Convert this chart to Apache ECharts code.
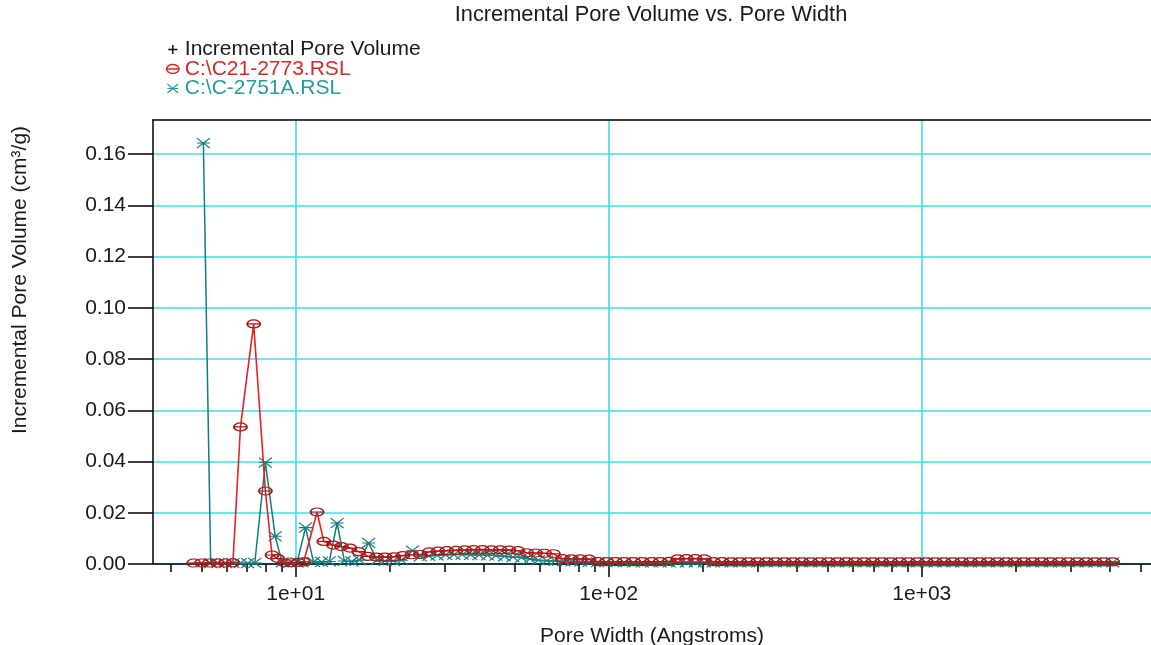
<!DOCTYPE html>
<html><head><meta charset="utf-8">
<script src="https://cdn.jsdelivr.net/npm/echarts@6/dist/echarts.min.js"></script>
<style>html,body{margin:0;padding:0;background:#fff}#c{width:1151px;height:645px}</style>
</head><body><div id="c"></div>
<script>
// ---- tick values / labels ----
const yTicks = [0, 0.02, 0.04, 0.06, 0.08, 0.10, 0.12, 0.14, 0.16];
const xMajorTicks = [10, 100, 1000];
const xMajorLabels = ['1e+01', '1e+02', '1e+03'];
const xMinorTicks = [4, 5, 6, 7, 8, 9, 20, 30, 40, 50, 60, 70, 80, 90, 200, 300, 400, 500, 600, 700, 800, 900, 2000, 3000, 4000, 5000];

// ---- series names ----
const seriesNames = ['Incremental Pore Volume', 'C:\\C21-2773.RSL', 'C:\\C-2751A.RSL'];

// ---- Incremental Pore Volume (no visible points) ----
const ipvWidths = [];
const ipvValues = [];

// ---- C:\C21-2773.RSL (pore width in Angstroms, incremental volume cm3/g) ----
const redWidths = [4.72, 5.0, 5.3, 5.62, 5.95, 6.3, 6.66, 7.34, 8.0, 8.4, 8.75, 9.2, 9.7, 10.2, 10.6,
  11.7, 12.3, 13.2, 14.0, 14.9, 15.9, 17.0, 18.1, 19.3, 20.6, 22.0, 23.5, 25.0, 26.7, 28.5, 30.4,
  32.5, 34.7, 37.0, 39.5, 42.2, 45.0, 48.0, 51.3, 54.7, 58.4, 62.4, 66.6, 71.1, 75.9, 81.0, 86.5,
  92.3, 98.6];
const redValues = [0.0004, 0.0004, 0.0004, 0.0004, 0.0004, 0.0005, 0.0535, 0.0937, 0.0285, 0.0035, 0.0022, 0.0005, 0.0005, 0.0006, 0.0008,
  0.0203, 0.0088, 0.0074, 0.0068, 0.0062, 0.0048, 0.0030, 0.0027, 0.0027, 0.0028, 0.0033, 0.0036, 0.0037, 0.0047, 0.0050, 0.0052,
  0.0053, 0.0055, 0.0056, 0.0056, 0.0055, 0.0055, 0.0054, 0.0052, 0.0044, 0.0043, 0.0042, 0.0040, 0.0021, 0.0020, 0.0020, 0.0019,
  0.0009, 0.0009];

// ---- C:\C-2751A.RSL ----
const tealWidths = [5.07, 5.35, 5.65, 5.97, 6.3, 6.65, 7.02, 7.4, 8.0, 8.6, 9.05, 9.55, 10.1, 10.75, 11.4,
  12.1, 12.8, 13.56, 14.3, 15.1, 16.0, 17.1, 18.2, 19.3, 20.5, 21.8, 23.6, 25.0, 26.6, 28.3, 30.1,
  32.0, 34.0, 36.2, 38.5, 41.0, 43.6, 46.4, 49.4, 52.6, 56.0, 59.6, 63.4, 67.5, 71.8, 76.4, 81.3,
  86.5, 92.1, 98.0];
const tealValues = [0.1643, 0.0003, 0.0003, 0.0003, 0.0003, 0.0003, 0.0003, 0.0004, 0.0396, 0.0108, 0.0006, 0.0005, 0.0006, 0.0142, 0.0008,
  0.0008, 0.0010, 0.0160, 0.0012, 0.0010, 0.0015, 0.0082, 0.0015, 0.0012, 0.0012, 0.0015, 0.0052, 0.0030, 0.0032, 0.0034, 0.0036,
  0.0037, 0.0037, 0.0036, 0.0035, 0.0034, 0.0033, 0.0030, 0.0027, 0.0025, 0.0020, 0.0015, 0.0013, 0.0012, 0.0011, 0.0010, 0.0009,
  0.0008, 0.0007, 0.0007];

// ---- tail of both distributions (pore widths above 100 A) ----
const tailWidths = [105, 112, 120, 128, 137, 146, 156, 166, 177, 189, 202, 216, 230, 246, 262, 280, 299, 319, 341, 364,
  388, 414, 442, 472, 504, 538, 574, 613, 654, 698, 745, 796, 849, 906, 968, 1033, 1103, 1177, 1257, 1342,
  1432, 1529, 1632, 1742, 1860, 1985, 2119, 2262, 2415, 2578, 2752, 2938, 3136, 3348, 3574, 3815, 4073];
const redTail = [0.0009, 0.0009, 0.0009, 0.0009, 0.0009, 0.0009, 0.0010, 0.0020, 0.0021, 0.0021, 0.0020, 0.0009, 0.0009, 0.0008, 0.0008, 0.0008, 0.0008, 0.0008, 0.0008, 0.0008,
  0.0008, 0.0008, 0.0008, 0.0008, 0.0008, 0.0008, 0.0008, 0.0008, 0.0008, 0.0008, 0.0008, 0.0008, 0.0008, 0.0008, 0.0008, 0.0008, 0.0008, 0.0008, 0.0008, 0.0008,
  0.0008, 0.0008, 0.0008, 0.0008, 0.0008, 0.0008, 0.0008, 0.0008, 0.0008, 0.0008, 0.0008, 0.0008, 0.0008, 0.0008, 0.0008, 0.0008, 0.0008];
const tealTail = [0.0007, 0.0007, 0.0006, 0.0006, 0.0006, 0.0006, 0.0006, 0.0006, 0.0006, 0.0006, 0.0006, 0.0006, 0.0006, 0.0006, 0.0006, 0.0006, 0.0006, 0.0006, 0.0006, 0.0006,
  0.0006, 0.0006, 0.0006, 0.0006, 0.0006, 0.0006, 0.0006, 0.0006, 0.0006, 0.0006, 0.0006, 0.0006, 0.0006, 0.0006, 0.0006, 0.0006, 0.0006, 0.0006, 0.0006, 0.0006,
  0.0006, 0.0006, 0.0006, 0.0006, 0.0006, 0.0006, 0.0006, 0.0006, 0.0006, 0.0006, 0.0006, 0.0006, 0.0006, 0.0006, 0.0006, 0.0006, 0.0006];

function pairs(xs, ys) { return xs.map((x, i) => [x, ys[i]]); }
const ipvData = pairs(ipvWidths, ipvValues);
const redData = pairs(redWidths, redValues).concat(pairs(tailWidths, redTail));
const tealData = pairs(tealWidths, tealValues).concat(pairs(tailWidths, tealTail));

const FONT = "'Liberation Sans', Arial, sans-serif";
const FS = 21;
const TXT = '#1a1a1a';
const GRIDC = '#3fdde6';
const RED = '#e32222', RED_M = '#a81a1a';
const TEAL = '#137c7c', TEAL_M = '#177f7f';
const plusPath = 'path://M6,0L6,12M0,6L12,6';
const ovalPath = 'path://M0,5A7,5,0,1,1,14,5A7,5,0,1,1,0,5ZM0,5L14,5';
const crossPath = 'path://M0,0L12,10M0,10L12,0M0,5L12,5';

const grid = { left: 153, top: 120, right: 0, bottom: 81, containLabel: false, outerBoundsMode: 'none' };
const chart = echarts.init(document.getElementById('c'));
chart.setOption({
  animation: false,
  backgroundColor: '#fff',
  textStyle: { fontFamily: FONT },
  title: {
    text: 'Incremental Pore Volume vs. Pore Width', left: 651, top: 4, padding: 0, textAlign: 'center',
    textStyle: { fontFamily: FONT, fontSize: 21.8, fontWeight: 'normal', color: TXT }
  },
  legend: {
    orient: 'vertical', left: 159, top: 34, itemGap: -1.5, itemWidth: 14, itemHeight: 9, selectedMode: false,
    textStyle: { fontFamily: FONT, fontSize: FS },
    data: [
      { name: seriesNames[0], icon: plusPath, itemStyle: { color: 'none', borderColor: '#000', borderWidth: 1.4 }, textStyle: { color: TXT } },
      { name: seriesNames[1], icon: ovalPath, itemStyle: { color: 'none', borderColor: '#d02828', borderWidth: 1.4 }, textStyle: { color: '#d02a2a' } },
      { name: seriesNames[2], icon: crossPath, itemStyle: { color: '#2a9a9a', borderColor: '#2a9a9a', borderWidth: 1.2 }, textStyle: { color: '#2a9a9a' } }
    ]
  },
  grid: [Object.assign({}, grid), Object.assign({}, grid)],
  xAxis: [
    {
      gridIndex: 0, type: 'log', logBase: 10, min: 3.5, max: 5400, position: 'bottom',
      name: 'Pore Width (Angstroms)', nameLocation: 'middle', nameGap: 62,
      nameTextStyle: { fontFamily: FONT, fontSize: FS, color: TXT },
      axisLine: { show: true, onZero: false, lineStyle: { color: '#000', width: 1.5 } },
      axisTick: { show: true, customValues: xMajorTicks, length: 13, lineStyle: { color: '#000', width: 1.5 } },
      axisLabel: { show: true, customValues: xMajorTicks, margin: 20, fontFamily: FONT, fontSize: FS, color: TXT,
        formatter: v => xMajorLabels[xMajorTicks.indexOf(Math.round(v))] || '' },
      splitLine: { show: true, lineStyle: { color: GRIDC, width: 1.6 } },
      minorTick: { show: false }, minorSplitLine: { show: false }
    },
    {
      gridIndex: 0, type: 'log', logBase: 10, min: 3.5, max: 5400, position: 'top',
      axisLine: { show: true, onZero: false, lineStyle: { color: '#000', width: 1.5 } },
      axisTick: { show: false }, axisLabel: { show: false }, splitLine: { show: false }
    },
    {
      gridIndex: 1, type: 'log', logBase: 10, min: 3.5, max: 5400, position: 'bottom',
      axisLine: { show: false, onZero: false },
      axisTick: { show: true, customValues: xMinorTicks, length: 8, lineStyle: { color: '#000', width: 1.5 } },
      axisLabel: { show: false }, splitLine: { show: false }
    }
  ],
  yAxis: [
    {
      gridIndex: 0, type: 'value', min: 0, max: 0.1733,
      name: 'Incremental Pore Volume (cm³/g)', nameLocation: 'middle', nameGap: 122,
      nameTextStyle: { fontFamily: FONT, fontSize: FS, color: TXT, padding: [0, 0, 0, 124] },
      axisLine: { show: true, onZero: false, lineStyle: { color: '#000', width: 1.5 } },
      axisTick: { show: true, customValues: yTicks, length: 25, lineStyle: { color: '#000', width: 1.5 } },
      axisLabel: { show: true, customValues: yTicks, margin: 27, fontFamily: FONT, fontSize: FS, color: TXT,
        formatter: v => v.toFixed(2) },
      splitLine: { show: true, lineStyle: { color: GRIDC, width: 1.6 } }
    },
    { gridIndex: 1, type: 'value', min: 0, max: 1, show: false }
  ],
  series: [
    {
      name: seriesNames[0], type: 'line', xAxisIndex: 0, yAxisIndex: 0, data: ipvData,
      symbol: plusPath, symbolSize: [12, 12],
      itemStyle: { color: '#000', borderColor: '#000', borderWidth: 1.2 },
      lineStyle: { color: '#000', width: 1.5 }
    },
    {
      name: seriesNames[2], type: 'line', xAxisIndex: 0, yAxisIndex: 0, data: tealData,
      symbol: crossPath, symbolSize: [13, 10], showAllSymbol: true,
      itemStyle: { color: TEAL_M, borderColor: TEAL_M, borderWidth: 1.2 },
      lineStyle: { color: TEAL, width: 1.5 }, z: 3
    },
    {
      name: seriesNames[1], type: 'line', xAxisIndex: 0, yAxisIndex: 0, data: redData,
      symbol: ovalPath, symbolSize: [13, 8], showAllSymbol: true,
      itemStyle: { color: 'rgba(255,255,255,0)', borderColor: RED_M, borderWidth: 1.5 },
      lineStyle: { color: RED, width: 1.6 }, z: 4
    }
  ]
});
</script>
</body></html>
